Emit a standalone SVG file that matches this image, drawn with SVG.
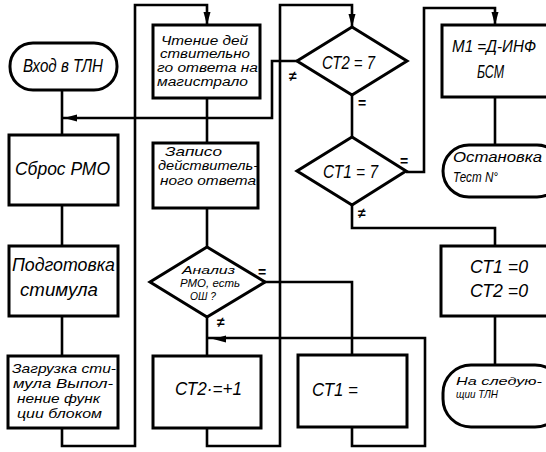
<svg xmlns="http://www.w3.org/2000/svg" xmlns:xlink="http://www.w3.org/1999/xlink" width="546" height="452" viewBox="0 0 546 452">
  <style>
    .blk { fill: #fff; stroke: #000; stroke-width: 3; }
    .wire { fill: none; stroke: #000; stroke-width: 2.6; stroke-linejoin: miter; }
    text { font-family: "Liberation Sans", "DejaVu Sans", sans-serif; font-style: italic; fill: #000; }
    .big { font-size: 18px; }
    .mid { font-size: 15px; }
    .sm { font-size: 13px; }
    .rd { font-size: 12px; }
    .xs { font-size: 11px; }
    .mark { font-size: 14px; font-style: normal; font-weight: bold; }
  </style>
  <defs>
    <!-- arrowhead pointing along +x, tip at origin -->
    <path id="ah" d="M0,0 L-13,-3.5 L-13,3.5 Z" fill="#000"/>
  </defs>
  <rect width="546" height="452" fill="#fff"/>

  <!-- connectors -->
  <g id="connectors">
    <path class="wire" d="M62,90 V135"/>
    <path class="wire" d="M297,61 H272 V118 H63"/>
    <path class="wire" d="M62,205 V246"/>
    <path class="wire" d="M62,316 V356"/>
    <path class="wire" d="M62,428 V446 H135 V5 H207 V25"/>
    <path class="wire" d="M207,98 V143"/>
    <path class="wire" d="M207,208 V247"/>
    <path class="wire" d="M207,317 V356"/>
    <path class="wire" d="M265,282 H352 V355"/>
    <path class="wire" d="M352,427 V446 H425 V338 H207"/>
    <path class="wire" d="M207,428 V446 H280 V5 H352 V27"/>
    <path class="wire" d="M352,95 V137"/>
    <path class="wire" d="M406,172 H424 V8 H495 V25"/>
    <path class="wire" d="M352,205 V228 H495 V246"/>
    <path class="wire" d="M495,97 V145"/>
    <path class="wire" d="M495,316 V365"/>
    <use xlink:href="#ah" transform="translate(64,118) rotate(180)"/>
    <use xlink:href="#ah" transform="translate(213,339) rotate(180)"/>
    <use xlink:href="#ah" transform="translate(207,25) rotate(90)"/>
    <use xlink:href="#ah" transform="translate(352,27) rotate(90)"/>
    <use xlink:href="#ah" transform="translate(495,25) rotate(90)"/>
    <text class="mark" x="289" y="81">≠</text>
    <text class="mark" x="358" y="108">=</text>
    <text class="mark" x="400" y="166">=</text>
    <text class="mark" x="358" y="218">≠</text>
    <text class="mark" x="258" y="277">=</text>
    <text class="mark" x="217" y="327">≠</text>
  </g>

  <g id="start">
    <rect class="blk" x="10" y="43" width="107" height="47" rx="23"/>
    <text class="big" x="23" y="72" textLength="80" lengthAdjust="spacingAndGlyphs">Вход в ТЛН</text>
  </g>

  <g id="reset">
    <rect class="blk" x="9" y="135" width="109" height="70"/>
    <text class="big" x="15" y="175" textLength="95" lengthAdjust="spacingAndGlyphs">Сброс РМО</text>
  </g>

  <g id="prepare">
    <rect class="blk" x="9" y="246" width="109" height="70"/>
    <text class="big" x="12" y="271" textLength="103" lengthAdjust="spacingAndGlyphs">Подготовка</text>
    <text class="big" x="20" y="296" textLength="78" lengthAdjust="spacingAndGlyphs">стимула</text>
  </g>

  <g id="load">
    <rect class="blk" x="8" y="356" width="110" height="72"/>
    <text class="sm" x="12" y="373" textLength="104" lengthAdjust="spacingAndGlyphs">Загрузка сти-</text>
    <text class="sm" x="13" y="388" textLength="100" lengthAdjust="spacingAndGlyphs">мула Выпол-</text>
    <text class="sm" x="17" y="403" textLength="83" lengthAdjust="spacingAndGlyphs">нение функ</text>
    <text class="sm" x="17" y="418" textLength="85" lengthAdjust="spacingAndGlyphs">ции блоком</text>
  </g>

  <g id="read">
    <rect class="blk" x="153" y="25" width="107" height="73"/>
    <text class="rd" x="161" y="45" textLength="87" lengthAdjust="spacingAndGlyphs">Чтение дей</text>
    <text class="rd" x="160" y="58" textLength="90" lengthAdjust="spacingAndGlyphs">ствительно</text>
    <text class="rd" x="157" y="72" textLength="101" lengthAdjust="spacingAndGlyphs">го ответа на</text>
    <text class="rd" x="157" y="86" textLength="91" lengthAdjust="spacingAndGlyphs">магистрало</text>
  </g>

  <g id="write">
    <rect class="blk" x="153" y="143" width="105" height="65"/>
    <text class="sm" x="165" y="156" textLength="57" lengthAdjust="spacingAndGlyphs">Записо</text>
    <text class="sm" x="158" y="170" textLength="100" lengthAdjust="spacingAndGlyphs">действитель-</text>
    <text class="sm" x="160" y="185" textLength="96" lengthAdjust="spacingAndGlyphs">ного ответа</text>
  </g>

  <g id="analyse">
    <polygon class="blk" points="207,247 265,282 207,317 150,282"/>
    <text class="xs" x="182" y="274" textLength="53" lengthAdjust="spacingAndGlyphs">Анализ</text>
    <text class="xs" x="180" y="287" textLength="60" lengthAdjust="spacingAndGlyphs">РМО, есть</text>
    <text class="xs" x="190" y="300" textLength="26" lengthAdjust="spacingAndGlyphs">ОШ ?</text>
  </g>

  <g id="inc-ct2">
    <rect class="blk" x="153" y="356" width="108" height="72"/>
    <text class="big" x="175" y="395" textLength="67" lengthAdjust="spacingAndGlyphs">СТ2·=+1</text>
  </g>

  <g id="set-ct1">
    <rect class="blk" x="298" y="355" width="109" height="72"/>
    <text class="big" x="312" y="396" textLength="46" lengthAdjust="spacingAndGlyphs">СТ1 =</text>
  </g>

  <g id="ct2-check">
    <polygon class="blk" points="352,27 407,61 352,95 297,61"/>
    <text class="big" x="322" y="69" textLength="53" lengthAdjust="spacingAndGlyphs">СТ2 = 7</text>
  </g>

  <g id="ct1-check">
    <polygon class="blk" points="352,137 406,171 352,205 297,171"/>
    <text class="big" x="323" y="178" textLength="55" lengthAdjust="spacingAndGlyphs">СТ1 = 7</text>
  </g>

  <g id="m1">
    <rect class="blk" x="442" y="25" width="120" height="72"/>
    <text x="452" y="52" font-size="16" textLength="84" lengthAdjust="spacingAndGlyphs">М1 =Д-ИНФ</text>
    <text class="big" x="477" y="78" textLength="27" lengthAdjust="spacingAndGlyphs">БСМ</text>
  </g>

  <g id="stop">
    <rect class="blk" x="443" y="145" width="120" height="52" rx="26"/>
    <text class="mid" x="453" y="162" textLength="89" lengthAdjust="spacingAndGlyphs">Остановка</text>
    <text class="mid" x="453" y="182" textLength="45" lengthAdjust="spacingAndGlyphs">Тест N°</text>
  </g>

  <g id="clear">
    <rect class="blk" x="441" y="246" width="120" height="70"/>
    <text class="big" x="470" y="273" textLength="58" lengthAdjust="spacingAndGlyphs">СТ1 =0</text>
    <text class="big" x="470" y="297" textLength="58" lengthAdjust="spacingAndGlyphs">СТ2 =0</text>
  </g>

  <g id="next">
    <rect class="blk" x="443" y="365" width="120" height="62" rx="28"/>
    <text class="xs" x="456" y="385" textLength="86" lengthAdjust="spacingAndGlyphs">На следую-</text>
    <text class="xs" x="456" y="398" textLength="42" lengthAdjust="spacingAndGlyphs">щии ТЛН</text>
  </g>
</svg>
